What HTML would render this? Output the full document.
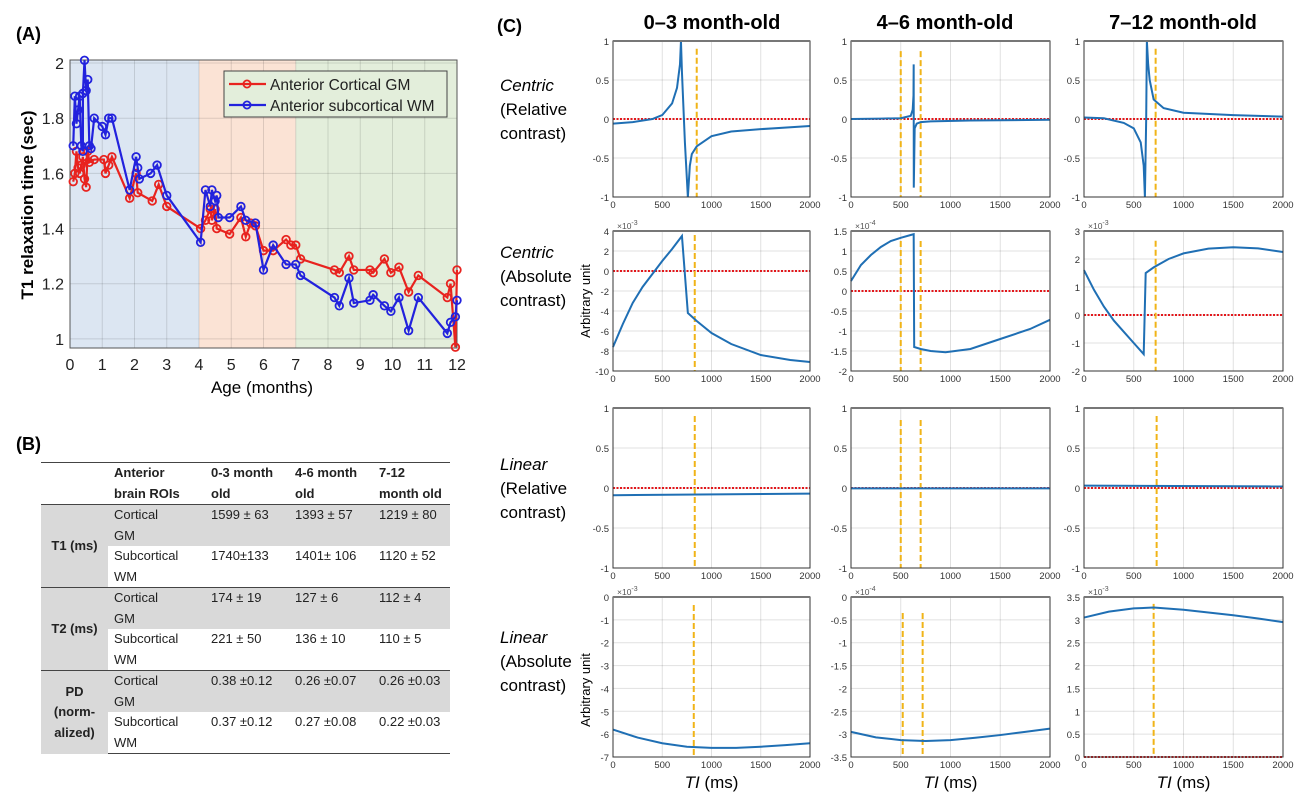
<!DOCTYPE html>
<html><head><meta charset="utf-8">
<style>
body{margin:0;background:#fff;width:1308px;height:805px;overflow:hidden;position:relative;font-family:"Liberation Sans",sans-serif}
svg{position:absolute;left:0;top:0}
table{position:absolute;left:41px;top:462px;width:409px;border-collapse:collapse;table-layout:fixed;font-family:"Liberation Sans",sans-serif;font-size:13px;color:#222}
td{height:41px;padding:0 0 0 6px;vertical-align:top;line-height:20.5px;box-sizing:border-box;white-space:nowrap;overflow:hidden}
.g{background:#d9d9d9}
.h td{font-weight:bold;border-top:1.5px solid #444;border-bottom:1.5px solid #444}
.lab{font-weight:bold;text-align:center;vertical-align:middle;padding:0;background:#d9d9d9}
.sep td{border-top:1.5px solid #444}
.last td{border-bottom:1.5px solid #444}
</style></head><body>
<svg id="svg" width="1308" height="805" font-family="Liberation Sans, sans-serif"></svg>
<table>
<colgroup><col style="width:67px"><col style="width:97px"><col style="width:84px"><col style="width:84px"><col></colgroup>
<tr class="h"><td style="padding:0"></td><td>Anterior<br>brain ROIs</td><td>0-3 month<br>old</td><td>4-6 month<br>old</td><td>7-12<br>month old</td></tr>
<tr class="g"><td class="lab" rowspan="2">T1 (ms)</td><td>Cortical<br>GM</td><td>1599 ± 63</td><td>1393 ± 57</td><td>1219 ± 80</td></tr>
<tr><td>Subcortical<br>WM</td><td>1740±133</td><td>1401± 106</td><td>1120 ± 52</td></tr>
<tr class="g sep"><td class="lab" rowspan="2">T2 (ms)</td><td>Cortical<br>GM</td><td>174 ± 19</td><td>127 ± 6</td><td>112 ± 4</td></tr>
<tr><td>Subcortical<br>WM</td><td>221 ± 50</td><td>136 ± 10</td><td>110 ± 5</td></tr>
<tr class="g sep"><td class="lab" rowspan="2">PD<br>(norm-<br>alized)</td><td>Cortical<br>GM</td><td>0.38 ±0.12</td><td>0.26 ±0.07</td><td>0.26 ±0.03</td></tr>
<tr class="last"><td>Subcortical<br>WM</td><td>0.37 ±0.12</td><td>0.27 ±0.08</td><td>0.22 ±0.03</td></tr>
</table>
<script>
// Panel A data
const gmAge=[0.1,0.15,0.2,0.25,0.3,0.35,0.4,0.45,0.5,0.55,0.6,0.75,1.05,1.1,1.2,1.3,1.85,2.05,2.1,2.55,2.75,3.0,4.05,4.2,4.35,4.4,4.5,4.55,4.95,5.3,5.45,5.6,5.75,6.0,6.3,6.7,6.85,7.0,7.15,8.2,8.35,8.65,8.8,9.3,9.4,9.75,9.95,10.2,10.5,10.8,11.7,11.8,11.95,12.0];
const gmT1=[1.57,1.60,1.68,1.62,1.60,1.63,1.66,1.58,1.55,1.68,1.64,1.65,1.65,1.60,1.63,1.66,1.51,1.60,1.53,1.50,1.56,1.48,1.40,1.43,1.47,1.43,1.47,1.40,1.38,1.44,1.37,1.42,1.41,1.32,1.32,1.36,1.34,1.34,1.29,1.25,1.24,1.30,1.25,1.25,1.24,1.29,1.24,1.26,1.17,1.23,1.15,1.20,0.97,1.25];
const wmAge=[0.1,0.15,0.2,0.25,0.3,0.35,0.4,0.4,0.45,0.5,0.55,0.6,0.65,0.75,1.0,1.1,1.2,1.3,1.85,2.05,2.1,2.15,2.5,2.7,3.0,4.05,4.2,4.35,4.4,4.5,4.55,4.6,4.95,5.3,5.45,5.75,6.0,6.3,6.7,7.0,7.15,8.2,8.35,8.65,8.8,9.3,9.4,9.75,9.95,10.2,10.5,10.8,11.7,11.8,11.95,12.0];
const wmT1=[1.70,1.88,1.78,1.83,1.88,1.70,1.68,1.89,2.01,1.90,1.94,1.70,1.69,1.80,1.77,1.74,1.80,1.80,1.54,1.66,1.62,1.58,1.60,1.63,1.52,1.35,1.54,1.48,1.54,1.50,1.52,1.44,1.44,1.48,1.43,1.42,1.25,1.34,1.27,1.27,1.23,1.15,1.12,1.22,1.13,1.14,1.16,1.12,1.10,1.15,1.03,1.15,1.02,1.06,1.08,1.14];
const aXTicks=[0,1,2,3,4,5,6,7,8,9,10,11,12];
const aYTicks=[1,1.2,1.4,1.6,1.8,2];
const ageBands=[[0,4,'#dce6f2'],[4,7,'#fbe3d5'],[7,12,'#e3eedb']];

// Panel C data: each plot curve TI values and signal values
const ti11=[0,200,400,500,600,650,680,690,700,730,760,780,800,850,1000,1200,1500,2000];
const v11=[-0.06,-0.04,0.0,0.05,0.2,0.4,0.7,1.0,0.6,-0.3,-1.0,-0.6,-0.45,-0.35,-0.22,-0.16,-0.13,-0.09];
const ti12=[0,300,500,600,620,628,630,631,640,660,700,800,1200,2000];
const v12=[0,0.005,0.01,0.04,0.12,0.3,0.7,-0.88,-0.12,-0.06,-0.04,-0.03,-0.02,-0.01];
const ti13=[0,200,400,500,570,600,612,625,632,645,660,700,800,1000,1500,2000];
const v13=[0.02,0.01,-0.05,-0.12,-0.3,-0.6,-1.0,0,1.0,0.7,0.5,0.25,0.14,0.08,0.05,0.03];
const ti21=[0,100,200,300,400,500,600,700,760,850,1000,1200,1500,1800,2000];
const v21=[-7.6,-5.3,-3.2,-1.6,-0.3,1.0,2.2,3.5,-4.2,-5.0,-6.2,-7.3,-8.4,-8.9,-9.1];
const ti22=[0,100,200,300,400,500,600,630,635,700,800,950,1200,1500,1800,2000];
const v22=[0.25,0.65,0.9,1.1,1.25,1.33,1.4,1.42,-1.4,-1.45,-1.5,-1.53,-1.45,-1.2,-0.95,-0.72];
const ti23=[0,100,200,300,400,500,600,620,700,850,1000,1250,1500,1750,2000];
const v23=[1.6,0.9,0.3,-0.2,-0.6,-1.0,-1.4,1.5,1.7,2.0,2.2,2.37,2.42,2.38,2.25];
const ti31=[0,2000];const v31=[-0.09,-0.07];
const ti32=[0,2000];const v32=[-0.005,-0.005];
const ti33=[0,2000];const v33=[0.03,0.02];
const ti41=[0,250,500,750,1000,1250,1500,1750,2000];
const v41=[-5.8,-6.15,-6.4,-6.55,-6.6,-6.6,-6.55,-6.48,-6.4];
const ti42=[0,250,500,750,1000,1250,1500,1750,2000];
const v42=[-2.95,-3.07,-3.13,-3.15,-3.13,-3.08,-3.02,-2.95,-2.88];
const ti43=[0,250,500,700,1000,1250,1500,1750,2000];
const v43=[3.05,3.18,3.25,3.27,3.22,3.16,3.1,3.03,2.95];
const tiTicks=[0,500,1000,1500,2000];
const yRel=[-1,-0.5,0,0.5,1];
const yT21=[-10,-8,-6,-4,-2,0,2,4];
const yT22=[-2,-1.5,-1,-0.5,0,0.5,1,1.5];
const yT23=[-2,-1,0,1,2,3];
const yT41=[-7,-6,-5,-4,-3,-2,-1,0];
const yT42=[-3.5,-3,-2.5,-2,-1.5,-1,-0.5,0];
const yT43=[0,0.5,1,1.5,2,2.5,3,3.5];
const vl11=[850],vl12=[500,700],vl13=[720],vl21=[830],vl22=[500,700],vl23=[720],vl31=[830],vl32=[500,700],vl33=[730],vl41=[820],vl42=[520,720],vl43=[700];
const colTitles=['0–3 month-old','4–6 month-old','7–12 month-old'];

const NS='http://www.w3.org/2000/svg';
const svg=document.getElementById('svg');
function mk(tag,at,parent,txt){const e=document.createElementNS(NS,tag);for(const k in at)e.setAttribute(k,at[k]);if(txt!==undefined)e.textContent=txt;(parent||svg).appendChild(e);return e;}

// ---- Panel A ----
const A={x0:70,x1:457,y0:60,y1:348,xmin:0,xmax:12,ymin:0.967,ymax:2.011};
const ax=v=>A.x0+(v-A.xmin)/(A.xmax-A.xmin)*(A.x1-A.x0);
const ay=v=>A.y1-(v-A.ymin)/(A.ymax-A.ymin)*(A.y1-A.y0);
let t;
t=mk('text',{x:16,y:40,'font-size':18,'font-weight':'bold'},svg,'(A)');

const gA=mk('g',{});
ageBands.forEach(b=>{const r=mk('rect',{x:ax(b[0]),y:A.y0,width:ax(b[1])-ax(b[0]),height:A.y1-A.y0,fill:b[2]},gA);
});
aXTicks.forEach(v=>{mk('line',{x1:ax(v),x2:ax(v),y1:A.y0,y2:A.y1,stroke:'#000','stroke-opacity':0.12},gA);
t=mk('text',{x:ax(v),y:A.y1+22,'font-size':16,'text-anchor':'middle',fill:'#222'},gA,String(v));
});
aYTicks.forEach(v=>{mk('line',{x1:A.x0,x2:A.x1,y1:ay(v),y2:ay(v),stroke:'#000','stroke-opacity':0.12},gA);
t=mk('text',{x:A.x0-6,y:ay(v)+6,'font-size':16,'text-anchor':'end',fill:'#222'},gA,String(v));
});
mk('rect',{x:A.x0,y:A.y0,width:A.x1-A.x0,height:A.y1-A.y0,fill:'none',stroke:'#555','stroke-width':1},gA);
function series(xs,ys,col,name){const g=mk('g',{},gA);
mk('polyline',{points:xs.map((x,i)=>ax(x)+','+ay(ys[i])).join(' '),fill:'none',stroke:col,'stroke-width':2.2},g);
xs.forEach((x,i)=>{const c=mk('circle',{cx:ax(x),cy:ay(ys[i]),r:3.8,fill:'none',stroke:col,'stroke-width':1.8},g);
});}
series(gmAge,gmT1,'#e8231f','series-cortical-gm');
series(wmAge,wmT1,'#2222dd','series-subcortical-wm');
const lg=mk('g',{});
mk('rect',{x:224,y:71,width:223,height:46,fill:'#e3eedb',stroke:'#444'},lg);
[['Anterior Cortical GM','#e8231f',84],['Anterior subcortical WM','#2222dd',105]].forEach(d=>{
const e=mk('g',{},lg);
mk('line',{x1:229,x2:266,y1:d[2],y2:d[2],stroke:d[1],'stroke-width':2.2},e);
mk('circle',{cx:247,cy:d[2],r:3.6,fill:'none',stroke:d[1],'stroke-width':1.8},e);
mk('text',{x:270,y:d[2]+6,'font-size':15.5,fill:'#222'},e,d[0]);});
t=mk('text',{x:0,y:0,'font-size':17,'font-weight':'bold',transform:'translate(33,205) rotate(-90)','text-anchor':'middle'},svg,'T1 relaxation time (sec)');

t=mk('text',{x:262,y:393,'font-size':17,'text-anchor':'middle'},svg,'Age (months)');

t=mk('text',{x:16,y:450,'font-size':18,'font-weight':'bold'},svg,'(B)');


// ---- Panel C ----
t=mk('text',{x:497,y:32,'font-size':18,'font-weight':'bold'},svg,'(C)');

const cols=[[613,810],[851,1050],[1084,1283]];
const rows=[[41,197],[231,371],[408,568],[597,757]];
const colCenters=[712,945,1183];
colTitles.forEach((s,i)=>{t=mk('text',{x:colCenters[i],y:29,'font-size':20,'font-weight':'bold','text-anchor':'middle'},svg,s);
});
const rowLab=[['Centric','(Relative','contrast)',91],['Centric','(Absolute','contrast)',258],['Linear','(Relative','contrast)',470],['Linear','(Absolute','contrast)',643]];
rowLab.forEach(r=>{const g=mk('g',{});
mk('text',{x:500,y:r[3],'font-size':17,'font-style':'italic'},g,r[0]);
mk('text',{x:500,y:r[3]+24,'font-size':17},g,r[1]);
mk('text',{x:500,y:r[3]+48,'font-size':17},g,r[2]);});
const plots=[
[ti11,v11,yRel,vl11,[0.9,-1],null],[ti12,v12,yRel,vl12,[0.87,-1],null],[ti13,v13,yRel,vl13,[0.9,-1],null],
[ti21,v21,yT21,vl21,[3.6,-10],'3'],[ti22,v22,yT22,vl22,[1.25,-2],'4'],[ti23,v23,yT23,vl23,[2.65,-2],'3'],
[ti31,v31,yRel,vl31,[0.9,-1],null],[ti32,v32,yRel,vl32,[0.85,-1],null],[ti33,v33,yRel,vl33,[0.9,-1],null],
[ti41,v41,yT41,vl41,[-0.35,-7],'3'],[ti42,v42,yT42,vl42,[-0.35,-3.5],'4'],[ti43,v43,yT43,vl43,[3.35,0],'3']];
plots.forEach((p,k)=>{
const r=Math.floor(k/3),c=k%3;const [x0,x1]=cols[c],[y0,y1]=rows[r];
const ticks=p[2],ymin=ticks[0],ymax=ticks[ticks.length-1];
const sx=v=>x0+v/2000*(x1-x0), sy=v=>y1-(v-ymin)/(ymax-ymin)*(y1-y0);
const g=mk('g',{});
mk('rect',{x:x0,y:y0,width:x1-x0,height:y1-y0,fill:'#fff'},g);
tiTicks.forEach(v=>{mk('line',{x1:sx(v),x2:sx(v),y1:y0,y2:y1,stroke:'#000','stroke-opacity':0.12},g);
const tt=mk('text',{x:sx(v),y:y1+11,'font-size':9.5,'text-anchor':'middle',fill:'#333'},g,String(v));
});
ticks.forEach(v=>{mk('line',{x1:x0,x2:x1,y1:sy(v),y2:sy(v),stroke:'#000','stroke-opacity':0.12},g);
const tt=mk('text',{x:x0-4,y:sy(v)+4,'font-size':9.5,'text-anchor':'end',fill:'#333'},g,String(v));
});
if(p[5]){const e=mk('text',{x:x0+4,y:y0-2,'font-size':8.5,fill:'#555'},g,'×10');mk('tspan',{dy:-4,'font-size':7},e,'-'+p[5]);
}
const zl=mk('line',{x1:x0,x2:x1,y1:sy(0),y2:sy(0),stroke:'#e3171b','stroke-width':2,'stroke-dasharray':'2,1.5'},g);

p[3].forEach(v=>{const l=mk('line',{x1:sx(v),x2:sx(v),y1:sy(p[4][0]),y2:sy(p[4][1]),stroke:'#f0b418','stroke-width':2,'stroke-dasharray':'6,3'},g);
});
const cl=mk('polyline',{points:p[0].map((x,i)=>sx(x)+','+sy(p[1][i])).join(' '),fill:'none',stroke:'#1f6fb4','stroke-width':2},g);

mk('rect',{x:x0,y:y0,width:x1-x0,height:y1-y0,fill:'none',stroke:'#333','stroke-width':1},g);
mk('line',{x1:x0,x2:x1,y1:y0,y2:y0,stroke:'#777','stroke-width':2},g);
});
[[590,301],[590,690]].forEach(q=>{t=mk('text',{x:0,y:0,'font-size':13,transform:'translate('+q[0]+','+q[1]+') rotate(-90)','text-anchor':'middle'},svg,'Arbitrary unit');
});
colCenters.forEach((cx,i)=>{t=mk('text',{x:(cols[i][0]+cols[i][1])/2,y:788,'font-size':17,'text-anchor':'middle'},svg);
mk('tspan',{'font-style':'italic'},t,'TI');mk('tspan',{},t,' (ms)');
});
</script>
</body></html>
